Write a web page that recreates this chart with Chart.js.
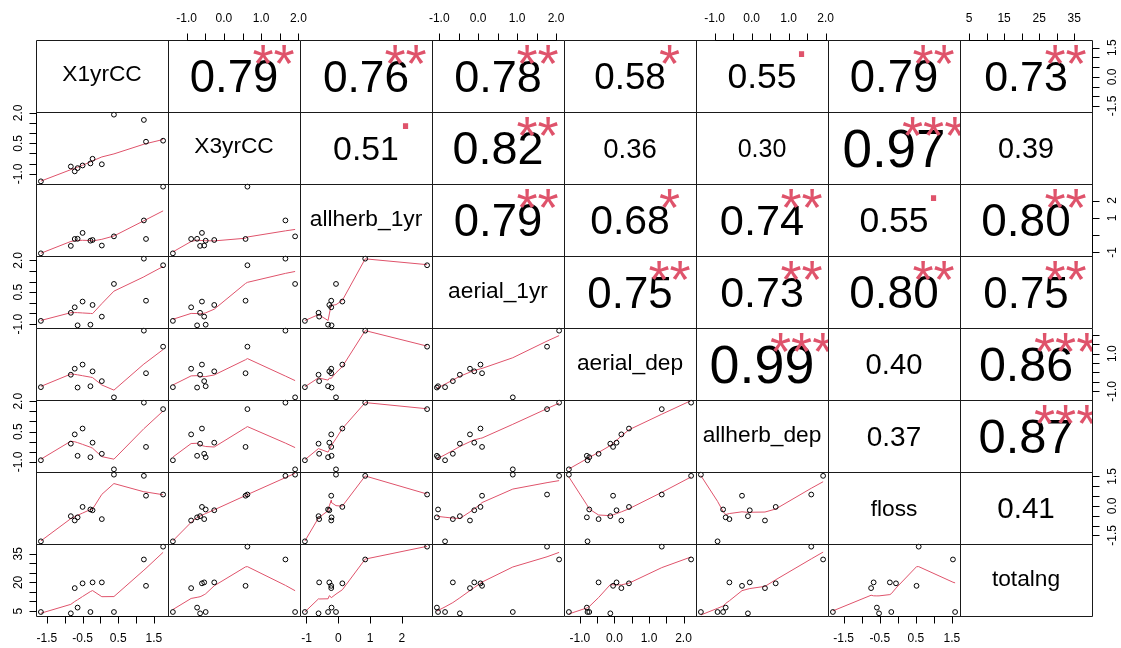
<!DOCTYPE html>
<html>
<head>
<meta charset="utf-8">
<title>Correlation matrix</title>
<script src="https://cdn.jsdelivr.net/npm/chart.js@4.4.1/dist/chart.umd.min.js"></script>
<style>
  html, body { margin: 0; padding: 0; background: #ffffff; }
  #wrap { position: relative; width: 1121px; height: 648px; }
  canvas { display: block; }
</style>
</head>
<body>
<div id="wrap"><canvas id="pairs" width="1121" height="648"></canvas></div>
<script>
// ---- observations (12 sites, standardised except totalng) ----
const variableNames = ['X1yrCC', 'X3yrCC', 'allherb_1yr', 'aerial_1yr', 'aerial_dep', 'allherb_dep', 'floss', 'totalng'];

const X1yrCC      = [-1.67, -0.83, -0.72, -0.64, -0.50, -0.28, -0.22, 0.04, 0.38, 1.22, 1.28, 1.76];
const X3yrCC      = [-1.37, -0.64, -0.88, -0.72, -0.59, -0.49, -0.26, -0.53, 1.91, 1.65, 0.58, 0.63];
const allherb_1yr = [-1.05, -0.62, -0.22, -0.21, 0.13, -0.32, -0.28, -0.60, -0.07, 0.85, -0.22, 2.80];
const aerial_1yr  = [-0.85, -0.47, -0.21, -1.06, 0.06, -1.03, -0.10, -0.65, 0.89, 2.08, 0.10, 1.77];
const aerial_dep  = [-0.78, -0.12, 0.20, -0.80, 0.42, -0.73, 0.06, -0.46, -1.32, 2.22, -0.04, 1.37];
const allherb_dep = [-0.92, -0.10, 0.36, -0.70, 0.65, -0.77, -0.05, -0.60, -1.37, 1.93, -0.26, 1.61];
const floss       = [-1.80, -0.52, -0.74, -0.58, -0.05, -0.18, -0.22, -0.67, 1.59, 1.53, 0.52, 0.58];
const totalng     = [4.5, 3.8, 17.0, 6.8, 19.5, 4.5, 20.0, 20.0, 4.5, 32.0, 18.2, 38.7];

const columns = [X1yrCC, X3yrCC, allherb_1yr, aerial_1yr, aerial_dep, allherb_dep, floss, totalng];

// ---- Pearson r and significance codes, upper triangle, row by row ----
const corrValues = [
  0.79, 0.76, 0.78, 0.58, 0.55, 0.79, 0.73,
  0.51, 0.82, 0.36, 0.30, 0.97, 0.39,
  0.79, 0.68, 0.74, 0.55, 0.80,
  0.75, 0.73, 0.80, 0.75,
  0.99, 0.40, 0.86,
  0.37, 0.87,
  0.41
];
const corrStars = [
  '**', '**', '**', '*', '.', '**', '**',
  '.', '**', '', '', '***', '',
  '**', '*', '**', '.', '**',
  '**', '**', '**', '**',
  '***', '', '***',
  '', '***',
  ''
];

// ---- axis ticks per variable ----
const tickMarks = [
  [-1.5, -1, -0.5, 0, 0.5, 1, 1.5],
  [-1, -0.5, 0, 0.5, 1, 1.5, 2],
  [-1, 0, 1, 2],
  [-1, -0.5, 0, 0.5, 1, 1.5, 2],
  [-1, -0.5, 0, 0.5, 1, 1.5, 2],
  [-1, -0.5, 0, 0.5, 1, 1.5, 2],
  [-1.5, -1, -0.5, 0, 0.5, 1, 1.5],
  [5, 10, 15, 20, 25, 30, 35]
];
// labels on the column axis (bottom for even columns, top for odd)
const colTickLabels = [
  ['-1.5', '-0.5', '0.5', '1.5'],
  ['-1.0', '0.0', '1.0', '2.0'],
  ['-1', '0', '1', '2'],
  ['-1.0', '0.0', '1.0', '2.0'],
  ['-1.0', '0.0', '1.0', '2.0'],
  ['-1.0', '0.0', '1.0', '2.0'],
  ['-1.5', '-0.5', '0.5', '1.5'],
  ['5', '15', '25', '35']
];
// labels on the row axis (right for even rows, left for odd)
const rowTickLabels = [
  ['-1.5', '0.0', '1.5'],
  ['-1.0', '0.5', '2.0'],
  ['-1', '1', '2'],
  ['-1.0', '0.5', '2.0'],
  ['-1.0', '1.0'],
  ['-1.0', '0.5', '2.0'],
  ['-1.5', '0.0', '1.5'],
  ['5', '20', '35']
];

// ---- layout and style ----
const N = variableNames.length;
const GRID = { left: 36, top: 40, cellW: 132, cellH: 72 };
const FONT = '"Liberation Sans", Arial, Helvetica, sans-serif';
const STAR_COLOR = '#DF536B';
const SMOOTH_COLOR = '#DF536B';
const TICK_LEN = 7;

// R-style lowess (clowess), span f, nsteps robustness iterations
function lowess(xIn, yIn, f, nsteps) {
  const n = xIn.length;
  const order = xIn.map((_, i) => i).sort((a, b) => xIn[a] - xIn[b]);
  const x = [0].concat(order.map(i => xIn[i]));
  const y = [0].concat(order.map(i => yIn[i]));
  const ys = new Array(n + 1).fill(0);
  const rw = new Array(n + 1).fill(0);
  const res = new Array(n + 1).fill(0);
  const delta = 0.01 * (x[n] - x[1]);
  const ns = Math.max(2, Math.min(n, Math.floor(f * n + 1e-7)));
  const range = x[n] - x[1];

  function lowest(xs, nleft, nright, userw) {
    const w = res;
    const h = Math.max(xs - x[nleft], x[nright] - xs);
    const h9 = 0.999 * h, h1 = 0.001 * h;
    let a = 0, j = nleft;
    while (j <= n) {
      w[j] = 0;
      const r = Math.abs(x[j] - xs);
      if (r <= h9) {
        w[j] = r <= h1 ? 1 : Math.pow(1 - Math.pow(r / h, 3), 3);
        if (userw) w[j] *= rw[j];
        a += w[j];
      } else if (x[j] > xs) {
        break;
      }
      j++;
    }
    const nrt = j - 1;
    if (a <= 0) return null;
    for (j = nleft; j <= nrt; j++) w[j] /= a;
    if (h > 0) {
      a = 0;
      for (j = nleft; j <= nrt; j++) a += w[j] * x[j];
      let b = xs - a, c = 0;
      for (j = nleft; j <= nrt; j++) c += w[j] * (x[j] - a) * (x[j] - a);
      if (Math.sqrt(c) > 0.001 * range) {
        b /= c;
        for (j = nleft; j <= nrt; j++) w[j] *= (b * (x[j] - a) + 1);
      }
    }
    let out = 0;
    for (j = nleft; j <= nrt; j++) out += w[j] * y[j];
    return out;
  }

  for (let iter = 1; iter <= nsteps + 1; iter++) {
    let nleft = 1, nright = ns, last = 0, i = 1;
    for (;;) {
      if (nright < n) {
        const d1 = x[i] - x[nleft];
        const d2 = x[nright + 1] - x[i];
        if (d1 > d2) { nleft++; nright++; continue; }
      }
      const fit = lowest(x[i], nleft, nright, iter > 1);
      ys[i] = fit === null ? y[i] : fit;
      if (last < i - 1) {
        const denom = x[i] - x[last];
        for (let j = last + 1; j < i; j++) {
          const alpha = (x[j] - x[last]) / denom;
          ys[j] = alpha * ys[i] + (1 - alpha) * ys[last];
        }
      }
      last = i;
      const cut = x[last] + delta;
      for (i = last + 1; i <= n; i++) {
        if (x[i] > cut) break;
        if (x[i] === x[last]) { ys[i] = ys[last]; last = i; }
      }
      i = Math.max(last + 1, i - 1);
      if (last >= n) break;
    }
    for (let k = 1; k <= n; k++) res[k] = y[k] - ys[k];
    let sc = 0;
    for (let k = 1; k <= n; k++) sc += Math.abs(res[k]);
    sc /= n;
    if (iter > nsteps) break;
    const sorted = res.slice(1).map(Math.abs).sort((a, b) => a - b);
    const m1 = Math.floor(n / 2);
    const cmad = (n % 2 === 0) ? 3 * (sorted[m1] + sorted[n - m1 - 1]) : 6 * sorted[m1];
    if (cmad < 1e-7 * sc) break;
    const c9 = 0.999 * cmad, c1 = 0.001 * cmad;
    for (let k = 1; k <= n; k++) {
      const r = Math.abs(res[k]);
      rw[k] = r <= c1 ? 1 : (r <= c9 ? Math.pow(1 - Math.pow(r / cmad, 2), 2) : 0);
    }
  }
  const out = [];
  for (let k = 1; k <= n; k++) out.push({ x: x[k], y: ys[k] });
  return out;
}

// ---- scales: one x scale per column, one y scale per row ----
function paddedRange(values) {
  const lo = Math.min(...values), hi = Math.max(...values);
  const pad = 0.04 * (hi - lo);
  return { min: lo - pad, max: hi + pad };
}

const scales = {};
for (let k = 0; k < N; k++) {
  const r = paddedRange(columns[k]);
  scales['x' + k] = { type: 'linear', axis: 'x', position: 'bottom', display: false, bounds: 'data', min: r.min, max: r.max };
  scales['y' + k] = { type: 'linear', axis: 'y', position: 'left', display: false, bounds: 'data', min: r.min, max: r.max };
}

// ---- datasets: scatter + lowess smooth in every lower panel ----
const datasets = [];
for (let i = 0; i < N; i++) {
  for (let j = 0; j < i; j++) {
    const xs = columns[j], ysv = columns[i];
    datasets.push({
      label: variableNames[i] + ' ~ ' + variableNames[j],
      data: xs.map((v, k) => ({ x: v, y: ysv[k] })),
      xAxisID: 'x' + j,
      yAxisID: 'y' + i,
      pointStyle: 'circle',
      pointRadius: 2.4,
      pointBorderWidth: 1,
      pointBorderColor: '#000000',
      pointBackgroundColor: 'rgba(0,0,0,0)',
      showLine: false,
      clip: false
    });
    datasets.push({
      label: 'smooth ' + variableNames[i] + ' ~ ' + variableNames[j],
      data: lowess(xs, ysv, 2 / 3, 3),
      xAxisID: 'x' + j,
      yAxisID: 'y' + i,
      showLine: true,
      pointRadius: 0,
      borderColor: SMOOTH_COLOR,
      borderWidth: 1,
      tension: 0,
      fill: false,
      clip: false
    });
  }
}

// place each scale on its own column / row of the matrix
const pairsLayout = {
  id: 'pairsLayout',
  afterLayout(chart) {
    for (let k = 0; k < N; k++) {
      const sx = chart.scales['x' + k];
      sx.left = GRID.left + k * GRID.cellW;
      sx.right = sx.left + GRID.cellW;
      sx.width = GRID.cellW;
      sx.top = GRID.top; sx.bottom = GRID.top + N * GRID.cellH;
      sx.configure();
      const sy = chart.scales['y' + k];
      sy.top = GRID.top + k * GRID.cellH;
      sy.bottom = sy.top + GRID.cellH;
      sy.height = GRID.cellH;
      sy.left = GRID.left; sy.right = GRID.left + N * GRID.cellW;
      sy.configure();
    }
  }
};

function fillInkCentered(ctx, text, cx, cy) {
  ctx.textAlign = 'center';
  ctx.textBaseline = 'alphabetic';
  const m = ctx.measureText(text);
  const base = cy + (m.actualBoundingBoxAscent - m.actualBoundingBoxDescent) / 2;
  ctx.fillText(text, cx, base);
}

// text panels, frames and the outer axes
const pairsDecor = {
  id: 'pairsDecor',
  afterDatasetsDraw(chart) {
    const ctx = chart.ctx;
    const W = GRID.cellW, H = GRID.cellH;
    const gx0 = GRID.left, gy0 = GRID.top;
    const gx1 = gx0 + N * W, gy1 = gy0 + N * H;
    ctx.save();

    // diagonal: variable names
    ctx.font = '20px ' + FONT;
    const widest = Math.max(...variableNames.map(s => ctx.measureText(s).width));
    const labelSize = 20 * 0.9 * W / widest;
    ctx.fillStyle = '#000000';
    ctx.font = labelSize + 'px ' + FONT;
    for (let k = 0; k < N; k++) {
      fillInkCentered(ctx, variableNames[k], gx0 + k * W + W / 2, gy0 + k * H + H / 2);
    }

    // upper triangle: correlation and stars
    let idx = 0;
    for (let i = 0; i < N; i++) {
      for (let j = i + 1; j < N; j++) {
        const r = corrValues[idx], stars = corrStars[idx];
        idx++;
        const txt = r.toFixed(2);
        const px = gx0 + j * W, py = gy0 + i * H;
        ctx.save();
        ctx.beginPath();
        ctx.rect(px, py, W, H);
        ctx.clip();
        ctx.font = '40px ' + FONT;
        const base = 40 * 0.8 * W / ctx.measureText(txt).width;
        ctx.fillStyle = '#000000';
        ctx.font = (base * (Math.abs(r) + 0.3) / 1.3) + 'px ' + FONT;
        fillInkCentered(ctx, txt, px + W / 2, py + H / 2);
        if (stars) {
          ctx.fillStyle = STAR_COLOR;
          ctx.font = base + 'px ' + FONT;
          fillInkCentered(ctx, stars, px + 0.8 * W, py + 0.2 * H);
        }
        ctx.restore();
      }
    }

    // panel frames
    ctx.strokeStyle = '#1a1a1a';
    ctx.lineWidth = 1;
    ctx.beginPath();
    for (let k = 0; k <= N; k++) {
      const x = Math.round(gx0 + k * W) + 0.5;
      ctx.moveTo(x, gy0 + 0.5); ctx.lineTo(x, gy1 + 0.5);
      const y = Math.round(gy0 + k * H) + 0.5;
      ctx.moveTo(gx0 + 0.5, y); ctx.lineTo(gx1 + 0.5, y);
    }
    ctx.stroke();

    // outer axes
    ctx.font = '12px ' + FONT;
    ctx.fillStyle = '#000000';
    ctx.strokeStyle = '#000000';
    for (let k = 0; k < N; k++) {
      // column axis
      const sx = chart.scales['x' + k];
      const bottom = k % 2 === 0;
      const ye = bottom ? gy1 + 0.5 : gy0 + 0.5;
      const dir = bottom ? 1 : -1;
      const tx = tickMarks[k].map(v => Math.round(sx.getPixelForValue(v)) + 0.5);
      ctx.beginPath();
      ctx.moveTo(tx[0], ye); ctx.lineTo(tx[tx.length - 1], ye);
      tx.forEach(x => { ctx.moveTo(x, ye); ctx.lineTo(x, ye + dir * TICK_LEN); });
      ctx.stroke();
      ctx.textAlign = 'center';
      ctx.textBaseline = 'middle';
      colTickLabels[k].forEach(lab => {
        const x = sx.getPixelForValue(parseFloat(lab));
        ctx.fillText(lab, x, bottom ? gy1 + 23 : gy0 - 21);
      });

      // row axis
      const sy = chart.scales['y' + k];
      const right = k % 2 === 0;
      const xe = right ? gx1 + 0.5 : gx0 + 0.5;
      const hd = right ? 1 : -1;
      const ty = tickMarks[k].map(v => Math.round(sy.getPixelForValue(v)) + 0.5);
      ctx.beginPath();
      ctx.moveTo(xe, ty[0]); ctx.lineTo(xe, ty[ty.length - 1]);
      ty.forEach(y => { ctx.moveTo(xe, y); ctx.lineTo(xe + hd * TICK_LEN, y); });
      ctx.stroke();
      rowTickLabels[k].forEach(lab => {
        const y = sy.getPixelForValue(parseFloat(lab));
        ctx.save();
        ctx.translate(right ? gx1 + 21 : gx0 - 17, y);
        ctx.rotate(-Math.PI / 2);
        ctx.textAlign = 'center';
        ctx.textBaseline = 'middle';
        ctx.fillText(lab, 0, 0);
        ctx.restore();
      });
    }
    ctx.restore();
  }
};

new Chart(document.getElementById('pairs'), {
  type: 'scatter',
  data: { datasets },
  options: {
    responsive: false,
    animation: false,
    devicePixelRatio: 1,
    events: [],
    layout: { padding: 0 },
    scales,
    plugins: {
      legend: { display: false },
      tooltip: { enabled: false },
      title: { display: false }
    }
  },
  plugins: [pairsLayout, pairsDecor]
});
</script>
</body>
</html>
